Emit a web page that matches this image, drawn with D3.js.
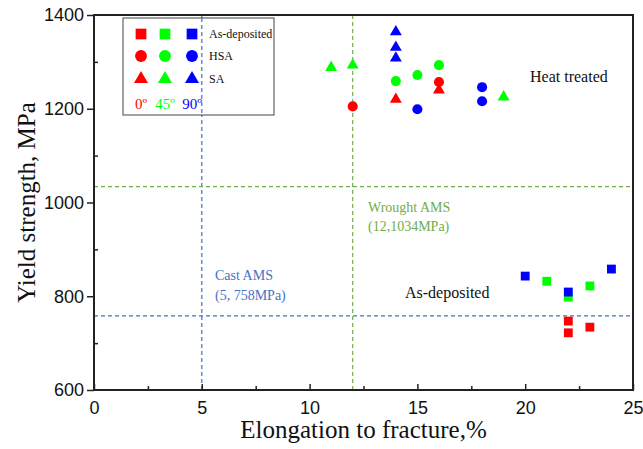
<!DOCTYPE html>
<html>
<head>
<meta charset="utf-8">
<script src="https://d3js.org/d3.v7.min.js"></script>
<style>
  body { margin: 0; background: #fff; }
  text { font-family: "Liberation Serif", "Times New Roman", serif; }
  .tick text { font-family: "Liberation Sans", Arial, sans-serif; }
</style>
</head>
<body>
<div id="chart"></div>
<script>
// data: [elongation %, yield strength MPa]
const orientations = ["0º", "45º", "90º"];
const orientColors = ["#ff0000", "#00ff00", "#0000ff"];
const conditions = ["As-deposited", "HSA", "SA"];

const asDep0 = [[22, 747], [22, 722], [23, 734]];
const asDep45 = [[21, 832], [22, 798], [23, 822]];
const asDep90 = [[20, 843], [22, 809], [24, 858]];
const hsa0 = [[12, 1205], [16, 1257]];
const hsa45 = [[14, 1259], [15, 1272], [16, 1293]];
const hsa90 = [[15, 1199], [18, 1246], [18, 1216]];
const sa0 = [[14, 1220], [16, 1240]];
const sa45 = [[11, 1288], [12, 1293], [19, 1225]];
const sa90 = [[14, 1364], [14, 1331], [14, 1308]];

const xTicks = [0, 5, 10, 15, 20, 25];
const yTicks = [600, 800, 1000, 1200, 1400];
const castAMS = [5, 758];
const wroughtAMS = [12, 1034];

const W = 643, H = 449;
const margin = {left: 94, right: 10, top: 15, bottom: 59};

const svg = d3.select("#chart").append("svg")
    .attr("width", W).attr("height", H);

const x = d3.scaleLinear().domain([0, 25]).range([margin.left, W - margin.right]);
const y = d3.scaleLinear().domain([600, 1400]).range([H - margin.bottom, margin.top]);

const x0 = x.range()[0], x1 = x.range()[1];
const y0 = y.range()[0], y1 = y.range()[1];

// reference lines
const refLines = [
  {pt: castAMS, color: "#4472c4"},
  {pt: wroughtAMS, color: "#70ad47"}
];
refLines.forEach(r => {
  svg.append("line")
      .attr("x1", x(r.pt[0])).attr("x2", x(r.pt[0]))
      .attr("y1", y0).attr("y2", y1)
      .attr("stroke", r.color).attr("stroke-width", 1.2)
      .attr("stroke-dasharray", "4,3");
  svg.append("line")
      .attr("x1", x0).attr("x2", x1)
      .attr("y1", y(r.pt[1])).attr("y2", y(r.pt[1]))
      .attr("stroke", r.color).attr("stroke-width", 1.2)
      .attr("stroke-dasharray", "4,3");
});

// axes
svg.append("g")
    .attr("transform", `translate(0,${y0})`)
    .call(d3.axisBottom(x).tickValues(xTicks).tickFormat(d3.format("d"))
      .tickSizeInner(-6).tickSizeOuter(0).tickPadding(11));
svg.append("g")
    .attr("transform", `translate(0,${y0})`)
    .call(d3.axisBottom(x).tickValues(d3.range(2.5, 25, 5)).tickSizeInner(-4).tickSizeOuter(0).tickFormat(""));

svg.append("g")
    .attr("transform", `translate(${x0},0)`)
    .call(d3.axisLeft(y).tickValues(yTicks).tickFormat(d3.format("d"))
      .tickSizeInner(7).tickSizeOuter(0).tickPadding(3));
svg.append("g")
    .attr("transform", `translate(${x0},0)`)
    .call(d3.axisLeft(y).tickValues(d3.range(700, 1400, 200)).tickSizeInner(-4).tickSizeOuter(0).tickFormat(""));

svg.selectAll(".domain").remove();
svg.selectAll(".tick line").attr("stroke", "#222").attr("stroke-width", 1.5);
svg.selectAll(".tick text").attr("font-size", 18).attr("fill", "#111");

// frame
svg.append("rect")
    .attr("x", x0).attr("y", y1)
    .attr("width", x1 - x0).attr("height", y0 - y1)
    .attr("fill", "none").attr("stroke", "#222").attr("stroke-width", 2);

// axis titles
svg.append("text")
    .attr("x", (x0 + x1) / 2).attr("y", 438)
    .attr("text-anchor", "middle").attr("font-size", 25).attr("fill", "#111")
    .text("Elongation to fracture,%");
svg.append("text")
    .attr("transform", `translate(35,${(y0 + y1) / 2}) rotate(-90)`)
    .attr("text-anchor", "middle").attr("font-size", 25).attr("fill", "#111")
    .text("Yield strength, MPa");

// annotations
svg.append("text").attr("x", 368).attr("y", 212)
    .attr("font-size", 14).attr("fill", "#70ad47").text("Wrought AMS");
svg.append("text").attr("x", 368).attr("y", 231)
    .attr("font-size", 14).attr("fill", "#70ad47").text("(12,1034MPa)");
svg.append("text").attr("x", 215).attr("y", 280)
    .attr("font-size", 14).attr("fill", "#4472c4").text("Cast AMS");
svg.append("text").attr("x", 215).attr("y", 300)
    .attr("font-size", 14).attr("fill", "#4472c4").text("(5, 758MPa)");
svg.append("text").attr("x", 530).attr("y", 82)
    .attr("font-size", 16).attr("fill", "#111").text("Heat treated");
svg.append("text").attr("x", 405).attr("y", 298)
    .attr("font-size", 16).attr("fill", "#111").text("As-deposited");

// data points
const shapes = [d3.symbolSquare, d3.symbolCircle, d3.symbolTriangle];
const sizes = [78, 80, 62];
const series = [
  {c: 0, o: 0, data: asDep0}, {c: 0, o: 1, data: asDep45}, {c: 0, o: 2, data: asDep90},
  {c: 1, o: 0, data: hsa0}, {c: 1, o: 1, data: hsa45}, {c: 1, o: 2, data: hsa90},
  {c: 2, o: 0, data: sa0}, {c: 2, o: 1, data: sa45}, {c: 2, o: 2, data: sa90}
];
series.forEach(s => {
  svg.append("g").selectAll("path")
    .data(s.data)
    .enter()
    .append("path")
    .attr("d", d3.symbol().type(shapes[s.c]).size(sizes[s.c]))
    .attr("transform", d => `translate(${x(d[0])},${y(d[1])})`)
    .attr("fill", orientColors[s.o]);
});

// legend
const lg = svg.append("g");
lg.append("rect").attr("x", 123).attr("y", 18).attr("width", 151).attr("height", 97)
    .attr("fill", "#fff").attr("stroke", "#444").attr("stroke-width", 1);
const colX = [141, 165, 192];
const rowY = [34, 56, 79];
const legSizes = [115, 110, 85];
conditions.forEach((c, i) => {
  orientations.forEach((o, j) => {
    lg.append("path")
        .attr("d", d3.symbol().type(shapes[i]).size(legSizes[i]))
        .attr("transform", `translate(${colX[j]},${rowY[i]})`)
        .attr("fill", orientColors[j]);
  });
  lg.append("text").attr("x", 209).attr("y", rowY[i] + 4)
      .attr("font-size", 12).attr("fill", "#111").text(c);
});
orientations.forEach((o, j) => {
  lg.append("text").attr("x", colX[j]).attr("y", 109)
      .attr("text-anchor", "middle").attr("font-size", 15)
      .attr("fill", orientColors[j]).text(o);
});
// blue dashed line passes over the legend box
svg.append("line")
    .attr("x1", x(castAMS[0])).attr("x2", x(castAMS[0]))
    .attr("y1", 18).attr("y2", 115)
    .attr("stroke", "#4472c4").attr("stroke-width", 1.2)
    .attr("stroke-dasharray", "4,3");
</script>
</body>
</html>
